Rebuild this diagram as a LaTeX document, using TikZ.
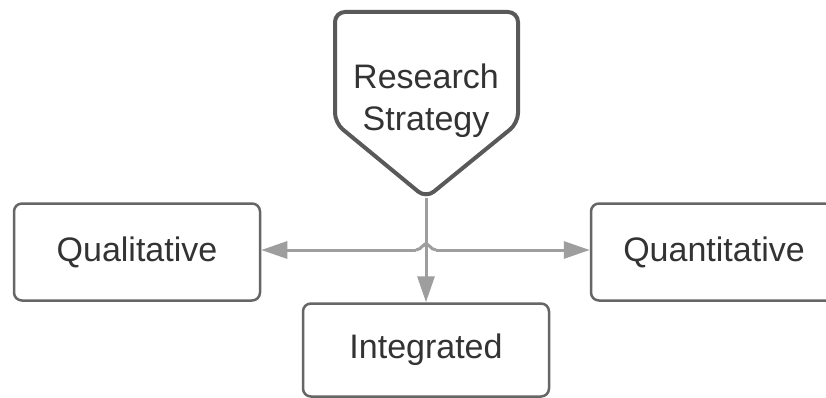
\documentclass[tikz,border=0pt]{standalone}
\usepackage{fontspec}
\setmainfont{Liberation Sans}
\usetikzlibrary{arrows.meta}
\definecolor{boxgray}{HTML}{666666}
\definecolor{pentgray}{HTML}{595959}
\definecolor{linegray}{HTML}{9E9E9E}
\definecolor{txtgray}{HTML}{333333}

\begin{document}
\begin{tikzpicture}[x=1pt,y=-1pt,
		box/.style={draw=boxgray, line width=2.5pt, rounded corners=8pt, minimum width=246pt, minimum height=97pt, font=\fontsize{34}{42}\selectfont, text=txtgray},
		conn/.style={draw=linegray, line width=3pt, -{Triangle[length=26pt,width=17pt]}}]
				\clip (0,0) rectangle (826,398);
				\fill[white] (0,0) rectangle (826,398);
				
				\draw[draw=pentgray, line width=4pt, rounded corners=10pt] (335,12) -- (518,12) -- (518,123) -- (426,198) -- (335,123) -- cycle;
				\coordinate (tip) at (426,198);
				\node[font=\fontsize{34}{42}\selectfont, text=txtgray, align=center] (strategy) at (426,101) {Research\\Strategy};
				
				\node[box] (qual) at (137,252) {Qualitative};
				\node[box] (quant) at (714,252) {Quantitative};
				\node[box, minimum height=93pt] (integ) at (426,350) {Integrated};
				
				\coordinate (hopL) at (416,250);
				\coordinate (hopR) at (436,250);
				\draw[conn] (hopL) -- (hopL -| qual.east);
				\draw[conn] (hopR) -- (hopR -| quant.west);
				\draw[draw=linegray, line width=3pt] (hopL) .. controls +(6,0) and +(-2,-5) .. (426,246) .. controls +(2,-5) and +(-6,0) .. (hopR);
				\draw[conn] (tip) -- (integ.north);
			\end{tikzpicture}
\end{document}
